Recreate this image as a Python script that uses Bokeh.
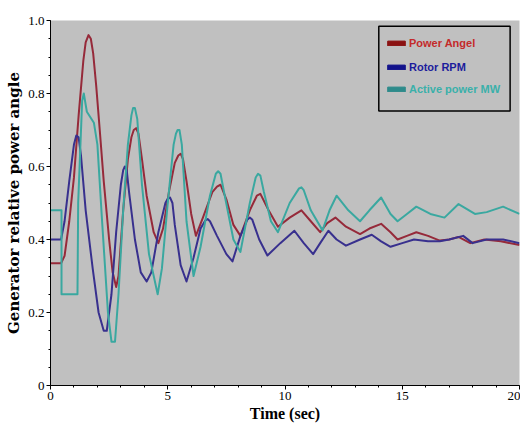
from bokeh.plotting import figure
from bokeh.models import Range1d, FixedTicker, Legend, LegendItem, BoxAnnotation
from bokeh.embed import file_html
from bokeh.resources import INLINE

# Power Angel
t_angle = [0, 0.45, 0.6, 0.8, 1.0, 1.2, 1.4, 1.5, 1.62, 1.72, 1.82, 1.95, 2.1, 2.27, 2.5, 2.65, 2.8, 2.9, 3.1,
           3.3, 3.45, 3.55, 3.65, 3.75, 3.9, 4.1, 4.4, 4.6, 4.8, 5.05, 5.3, 5.45, 5.55, 5.65, 5.8, 6.0, 6.2,
           6.5, 6.9, 7.1, 7.25, 7.5, 7.8, 8.1, 8.5, 8.8, 8.95, 9.3, 9.7, 10.2, 10.7, 11.1, 11.5, 11.8,
           12.15, 12.6, 13.2, 13.6, 14.1, 14.5, 14.8, 15.2, 15.6, 16.1, 16.6, 17.0, 17.4, 17.9, 18.5,
           19.2, 20]
v_angle = [0.335, 0.335, 0.355, 0.45, 0.57, 0.74, 0.89, 0.94, 0.96, 0.95, 0.91, 0.82, 0.70, 0.56, 0.40,
           0.31, 0.27, 0.30, 0.48, 0.62, 0.68, 0.70, 0.705, 0.69, 0.62, 0.52, 0.42, 0.39, 0.43, 0.53, 0.61,
           0.63, 0.635, 0.62, 0.56, 0.47, 0.41, 0.46, 0.53, 0.545, 0.55, 0.51, 0.44, 0.41, 0.48, 0.52,
           0.525, 0.48, 0.435, 0.46, 0.48, 0.45, 0.42, 0.445, 0.46, 0.435, 0.415, 0.43, 0.443, 0.42, 0.40,
           0.41, 0.42, 0.41, 0.397, 0.40, 0.407, 0.39, 0.40, 0.395, 0.385]

# Rotor RPM
t_rpm = [0, 0.45, 0.6, 0.8, 1.0, 1.1, 1.2, 1.3, 1.5, 1.8, 2.05, 2.27, 2.4, 2.6, 2.8, 3.0, 3.1, 3.17, 3.25,
         3.35, 3.6, 3.85, 4.1, 4.3, 4.6, 4.9, 5.0, 5.1, 5.2, 5.3, 5.55, 5.8, 6.1, 6.4, 6.6, 6.7, 6.8, 7.1,
         7.5, 7.76, 8.1, 8.4, 8.5, 8.6, 8.9, 9.25, 9.8, 10.4, 10.8, 11.2, 11.5, 11.85, 12.2, 12.6, 13.2,
         13.7, 14.1, 14.5, 15.0, 15.5, 16.1, 16.6, 17.0, 17.6, 18.0, 18.6, 19.3, 20]
v_rpm = [0.40, 0.40, 0.45, 0.56, 0.66, 0.685, 0.68, 0.63, 0.48, 0.32, 0.20, 0.15, 0.15, 0.25, 0.42, 0.55,
         0.59, 0.60, 0.59, 0.53, 0.40, 0.31, 0.285, 0.31, 0.42, 0.50, 0.512, 0.515, 0.50, 0.44, 0.33,
         0.285, 0.35, 0.43, 0.452, 0.456, 0.45, 0.41, 0.36, 0.34, 0.41, 0.455, 0.46, 0.455, 0.40, 0.356,
         0.39, 0.424, 0.39, 0.36, 0.39, 0.424, 0.40, 0.383, 0.40, 0.413, 0.395, 0.38, 0.39, 0.40, 0.395,
         0.395, 0.40, 0.41, 0.39, 0.40, 0.40, 0.39]

# Active power MW
t_mw = [0, 0.47, 0.47, 1.15, 1.18, 1.35, 1.42, 1.55, 1.85, 2.0, 2.2, 2.45, 2.6, 2.75, 2.9, 3.1, 3.3, 3.45,
        3.52, 3.6, 3.7, 3.9, 4.2, 4.57, 4.75, 5.0, 5.25, 5.35, 5.42, 5.5, 5.6, 5.8, 6.1, 6.4, 6.8, 7.05,
        7.15, 7.25, 7.4, 7.8, 8.1, 8.5, 8.75, 8.85, 8.95, 9.1, 9.4, 9.7, 10.2, 10.6, 10.7, 10.8, 11.1, 11.6,
        11.9, 12.2, 12.7, 13.2, 13.6, 14.1, 14.5, 14.8, 15.2, 15.6, 16.2, 16.8, 17.4, 18.1, 18.6, 19.3, 20]
v_mw = [0.48, 0.48, 0.25, 0.25, 0.50, 0.78, 0.80, 0.75, 0.72, 0.66, 0.45, 0.20, 0.12, 0.12, 0.25, 0.48,
        0.66, 0.74, 0.76, 0.76, 0.73, 0.55, 0.36, 0.25, 0.32, 0.50, 0.66, 0.69, 0.70, 0.70, 0.66, 0.45,
        0.30, 0.38, 0.52, 0.58, 0.587, 0.58, 0.53, 0.40, 0.366, 0.50, 0.57, 0.58, 0.575, 0.53, 0.45, 0.42,
        0.50, 0.54, 0.543, 0.535, 0.48, 0.425, 0.48, 0.52, 0.48, 0.45, 0.48, 0.515, 0.47, 0.45, 0.47, 0.49,
        0.47, 0.46, 0.497, 0.47, 0.475, 0.49, 0.47]

series_names = ["Power Angel", "Rotor RPM", "Active power MW"]
line_colors = ["#962a3a", "#38308e", "#3aa8a0"]
swatch_colors = ["#8b1212", "#12128b", "#2e8b8b"]
text_colors = ["#c42a2a", "#1c1c9c", "#3ab0aa"]

x_major = [0, 5, 10, 15, 20]
x_minor = list(range(0, 21))
y_major = [0, 0.2, 0.4, 0.6, 0.8, 1.0]
y_minor = [i * 0.05 for i in range(21)]

p = figure(width=520, height=424, output_backend="svg", toolbar_location=None,
           x_range=Range1d(0, 20), y_range=Range1d(0, 1.0),
           min_border_left=50, min_border_right=1, min_border_top=20, min_border_bottom=36)
p.background_fill_color = "#c0c0c0"
p.border_fill_color = "white"
p.outline_line_color = None
p.xgrid.visible = False
p.ygrid.visible = False

for t, v, c in zip([t_angle, t_rpm, t_mw], [v_angle, v_rpm, v_mw], line_colors):
    p.line(t, v, line_color=c, line_width=2, line_join="round")

serif = "Liberation Serif"
p.xaxis.ticker = FixedTicker(ticks=x_major, minor_ticks=x_minor)
p.yaxis.ticker = FixedTicker(ticks=y_major, minor_ticks=y_minor)
p.yaxis.major_label_overrides = {0: "0", 1.0: "1.0"}
for ax in (p.xaxis[0], p.yaxis[0]):
    ax.axis_line_color = "black"
    ax.major_tick_line_color = "black"
    ax.minor_tick_line_color = "black"
    ax.major_tick_out = 4
    ax.major_tick_in = 0
    ax.minor_tick_out = 2
    ax.minor_tick_in = 0
    ax.major_label_text_font = serif
    ax.major_label_text_font_size = "13px"
    ax.major_label_text_color = "black"
    ax.major_label_standoff = 2
    ax.axis_label_text_font_style = "bold"
    ax.axis_label_text_color = "black"
    ax.axis_label_standoff = 2
p.xaxis.axis_label = "Time (sec)"
p.xaxis.axis_label_text_font = serif
p.xaxis.axis_label_text_font_size = "16px"
p.yaxis.axis_label = "Generator relative power angle"
p.yaxis.axis_label_text_font = "DejaVu Serif"
p.yaxis.axis_label_text_font_size = "15px"

# legend frame
p.add_layout(BoxAnnotation(left=14.0, right=19.6, bottom=0.752, top=0.984,
                           fill_alpha=0, line_color="black", line_alpha=1.0, line_width=1.5))

rows_y = [336, 312, 290]
nan = float("nan")
for name, sc, tc, yy in zip(series_names, swatch_colors, text_colors, rows_y):
    r = p.quad(left=[nan], right=[nan], top=[nan], bottom=[nan], fill_color=sc, line_color=sc)
    leg = Legend(items=[LegendItem(label=name, renderers=[r])], location=(335, yy),
                 padding=0, margin=0, spacing=0, border_line_color=None, background_fill_alpha=0,
                 glyph_width=22, glyph_height=6, label_height=12, label_standoff=2,
                 label_text_font="Liberation Sans", label_text_font_style="bold",
                 label_text_font_size="11px", label_text_color=tc)
    p.add_layout(leg)

open("out.html", "w").write(file_html(p, INLINE))
